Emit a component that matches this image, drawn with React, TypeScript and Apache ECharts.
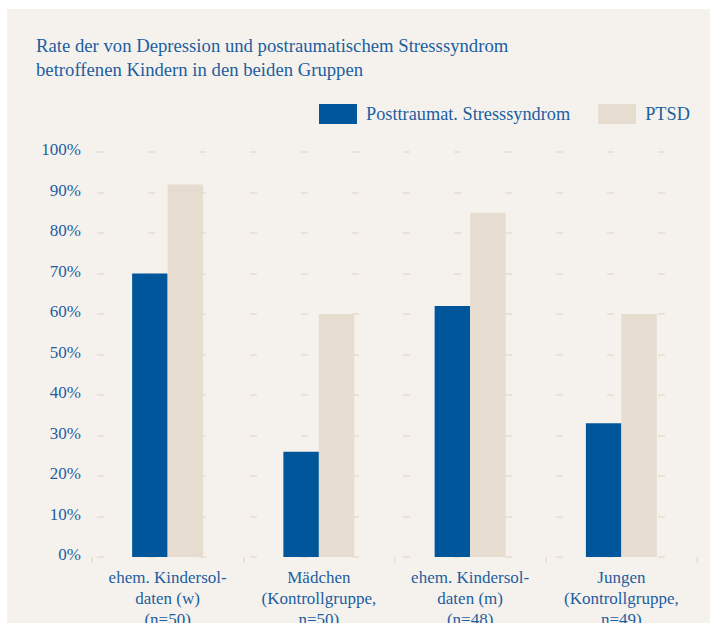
import React, { useEffect, useRef } from "react";
import * as echarts from "echarts";

const categories = [
  "ehem. Kindersol-\ndaten (w)\n(n=50)",
  "Mädchen\n(Kontrollgruppe,\nn=50)",
  "ehem. Kindersol-\ndaten (m)\n(n=48)",
  "Jungen\n(Kontrollgruppe,\nn=49)",
];
const seriesNames = ["Posttraumat. Stresssyndrom", "PTSD"];
const stressValues = [70, 26, 62, 33];
const ptsdValues = [92, 60, 85, 60];
const titleLines = [
  "Rate der von Depression und postraumatischem Stresssyndrom",
  "betroffenen Kindern in den beiden Gruppen",
];

const TEXT = "#1d5e9e";
const BLUE = "#00569a";
const BEIGE = "#e6ddd0";
const BG = "#f5f2ee";
const FONT = "Liberation Serif";

export default function App() {
  const ref = useRef<HTMLDivElement>(null);
  useEffect(() => {
    document.body.style.margin = "0";
    if (!ref.current) return;
    const chart = echarts.init(ref.current, null, { renderer: "svg" });
    chart.setOption({
      animation: false,
      backgroundColor: BG,
      textStyle: { fontFamily: FONT },
      title: {
        text: titleLines.join("\n"),
        left: 31,
        top: 28,
        textStyle: {
          color: TEXT,
          fontFamily: FONT,
          fontSize: 18.7,
          fontWeight: "normal",
          lineHeight: 24,
        },
      },
      legend: {
        left: 314,
        top: 99,
        itemWidth: 38,
        itemHeight: 20,
        itemGap: 28,
        icon: "rect",
        textStyle: {
          color: TEXT,
          fontFamily: FONT,
          fontSize: 18.3,
          padding: [0, 0, 0, 4],
        },
        data: seriesNames,
      },
      graphic: [
        { type: "rect", shape: { x: 0, y: 0, width: 710, height: 9 }, style: { fill: "#ffffff" }, silent: true },
        { type: "rect", shape: { x: 0, y: 0, width: 7, height: 623 }, style: { fill: "#ffffff" }, silent: true },
      ],
      grid: { left: 92, right: 13, top: 152, bottom: 66, containLabel: false, outerBoundsMode: "none" },
      xAxis: {
        type: "category",
        data: categories,
        offset: 5,
        axisLine: { show: false },
        axisTick: { show: true, length: 6, lineStyle: { color: BEIGE, width: 1.5 } },
        axisLabel: {
          interval: 0,
          margin: 5,
          color: TEXT,
          fontFamily: FONT,
          fontSize: 17,
          lineHeight: 21,
        },
      },
      yAxis: {
        type: "value",
        min: 0,
        max: 100,
        interval: 10,
        axisLine: { show: false },
        axisTick: { show: false },
        axisLabel: {
          formatter: "{value}%",
          margin: 11,
          color: TEXT,
          fontFamily: FONT,
          fontSize: 17,
          verticalAlign: "bottom",
          padding: [0, 0, -6, 0],
        },
        splitLine: {
          show: true,
          lineStyle: { color: "#e6ddd0", width: 1.5, type: [7, 44], dashOffset: 46 },
        },
      },
      series: [
        {
          name: seriesNames[0],
          type: "bar",
          data: stressValues,
          barWidth: 35.5,
          barGap: "0%",
          itemStyle: { color: BLUE },
        },
        {
          name: seriesNames[1],
          type: "bar",
          data: ptsdValues,
          barWidth: 35.5,
          barGap: "0%",
          itemStyle: { color: BEIGE },
        },
      ],
    });
    return () => chart.dispose();
  }, []);
  return <div ref={ref} style={{ width: 710, height: 623, background: "#fff" }} />;
}
